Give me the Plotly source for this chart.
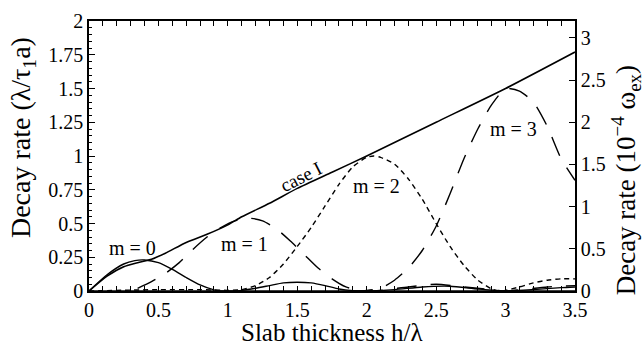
import plotly.graph_objects as go

# ---- data ----
case_x = [0, 0.13, 0.25, 0.35, 0.45, 0.55, 0.7, 0.85, 1.0, 1.1, 1.3, 1.5, 1.75, 2.0, 2.5, 3.0, 3.5]
case_y = [0, 0.11, 0.18, 0.21, 0.235, 0.28, 0.36, 0.42, 0.49, 0.55, 0.65, 0.76, 0.88, 1.0, 1.25, 1.5, 1.77]

m0_x = [0, 0.13, 0.25, 0.33, 0.4, 0.5, 0.6, 0.7, 0.8, 0.9, 0.95, 1.0, 1.1, 1.2, 1.3, 1.4, 1.5, 1.6, 1.7, 1.8, 1.9, 2.0, 2.2, 2.4, 2.6, 2.8, 3.0, 3.2, 3.4, 3.5]
m0_y = [0, 0.12, 0.2, 0.225, 0.23, 0.21, 0.16, 0.1, 0.045, 0.008, 0.0, 0.0, 0.005, 0.02, 0.04, 0.06, 0.065, 0.06, 0.04, 0.015, 0.003, 0.0, 0.01, 0.03, 0.035, 0.015, 0.0, 0.01, 0.025, 0.03]

m1_x = [0.35, 0.45, 0.55, 0.65, 0.75, 0.85, 0.95, 1.05, 1.15, 1.25, 1.35, 1.45, 1.55, 1.65, 1.75, 1.85, 1.95, 2.05, 2.3, 2.5, 2.7, 2.9, 3.0, 3.3, 3.5]
m1_y = [0.02, 0.07, 0.13, 0.21, 0.31, 0.40, 0.47, 0.52, 0.54, 0.52, 0.46, 0.37, 0.27, 0.17, 0.09, 0.03, 0.005, 0.0, 0.03, 0.05, 0.03, 0.01, 0.0, 0.03, 0.04]

m2_x = [0, 0.5, 0.8, 1.0, 1.1, 1.2, 1.3, 1.4, 1.5, 1.6, 1.7, 1.8, 1.9, 2.0, 2.05, 2.1, 2.2, 2.3, 2.4, 2.5, 2.6, 2.7, 2.8, 2.9, 2.95, 3.0, 3.1, 3.2, 3.3, 3.4, 3.5]
m2_y = [0, 0.01, 0.01, 0.005, 0.01, 0.04, 0.1, 0.2, 0.33, 0.47, 0.63, 0.79, 0.92, 0.99, 1.0, 0.99, 0.94, 0.83, 0.68, 0.5, 0.33, 0.19, 0.08, 0.015, 0.0, 0.005, 0.03, 0.06, 0.08, 0.09, 0.09]

m3_x = [1.9, 2.0, 2.1, 2.2, 2.3, 2.4, 2.5, 2.6, 2.7, 2.8, 2.9, 3.0, 3.1, 3.2, 3.3, 3.4, 3.5]
m3_y = [0.0, 0.005, 0.02, 0.08, 0.17, 0.3, 0.48, 0.72, 0.98, 1.2, 1.38, 1.5, 1.48, 1.4, 1.22, 0.98, 0.82]

x_ticks = [0, 0.5, 1, 1.5, 2, 2.5, 3, 3.5]
x_ticktext = ["0", "0.5", "1", "1.5", "2", "2.5", "3", "3.5"]
y_ticks = [0, 0.25, 0.5, 0.75, 1, 1.25, 1.5, 1.75, 2]
y_ticktext = ["0", "0.25", "0.5", "0.75", "1", "1.25", "1.5", "1.75", "2"]
y2_ticks = [0, 0.5, 1, 1.5, 2, 2.5, 3]
y2_ticktext = ["0", "0.5", "1", "1.5", "2", "2.5", "3"]

labels = ["m = 0", "m = 1", "m = 2", "m = 3"]
label_x = [0.31, 1.12, 2.07, 3.06]
label_y = [0.32, 0.35, 0.78, 1.2]

FONT = "Liberation Serif, Times New Roman, Times, serif"
BLACK = "black"

fig = go.Figure()
smooth = dict(shape="spline", smoothing=0.6)
fig.add_trace(go.Scatter(x=case_x, y=case_y, mode="lines",
                         line=dict(color=BLACK, width=1.6, **smooth)))
fig.add_trace(go.Scatter(x=m0_x, y=m0_y, mode="lines",
                         line=dict(color=BLACK, width=1.4, **smooth)))
fig.add_trace(go.Scatter(x=m1_x, y=m1_y, mode="lines",
                         line=dict(color=BLACK, width=1.4, dash="20px,14px", **smooth)))
fig.add_trace(go.Scatter(x=m2_x, y=m2_y, mode="lines",
                         line=dict(color=BLACK, width=1.4, dash="5px,4px", **smooth)))
fig.add_trace(go.Scatter(x=m3_x, y=m3_y, mode="lines",
                         line=dict(color=BLACK, width=1.4, dash="20px,14px", **smooth)))
# trace on the secondary axis so that axis is drawn
fig.add_trace(go.Scatter(x=[0, 3.5], y=[0, 0], yaxis="y2", mode="lines",
                         line=dict(color=BLACK, width=1.4), hoverinfo="skip"))

for t, lx, ly in zip(labels, label_x, label_y):
    fig.add_annotation(x=lx, y=ly, text=t, showarrow=False,
                       font=dict(family=FONT, size=20, color=BLACK))
fig.add_annotation(x=1.53, y=0.85, text="case I", showarrow=False, textangle=-27,
                   font=dict(family=FONT, size=19, color=BLACK))

# axis titles
fig.add_annotation(xref="paper", yref="paper", x=0.5, y=-0.155, yanchor="middle",
                   text="Slab thickness h/λ", showarrow=False,
                   font=dict(family=FONT, size=25, color=BLACK))
fig.add_annotation(xref="paper", yref="paper", x=-0.138, y=0.57, xanchor="center",
                   text="Decay rate (λ/τ<sub>1</sub>a)", showarrow=False, textangle=-90,
                   font=dict(family=FONT, size=28, color=BLACK))
fig.add_annotation(xref="paper", yref="paper", x=1.105, y=0.41, xanchor="center",
                   text="Decay rate (10<sup>−4</sup> ω<sub>ex</sub>)", showarrow=False, textangle=-90,
                   font=dict(family=FONT, size=27, color=BLACK))

fig.update_layout(
    width=644, height=352,
    margin=dict(l=89, r=69, t=10, b=61),
    paper_bgcolor="white", plot_bgcolor="white",
    showlegend=False,
    font=dict(family=FONT, size=19, color=BLACK),
    xaxis=dict(range=[0, 3.5], tickvals=x_ticks, ticktext=x_ticktext,
               showgrid=False, zeroline=False, showline=True, linecolor=BLACK, linewidth=1.5,
               ticks="inside", ticklen=5, tickcolor=BLACK, mirror="allticks",
               minor=dict(ticks="inside", dtick=0.1, ticklen=3, tickcolor=BLACK),
               tickfont=dict(family=FONT, size=20, color=BLACK)),
    yaxis=dict(range=[0, 2], tickvals=y_ticks, ticktext=y_ticktext,
               showgrid=False, zeroline=False, showline=True, linecolor=BLACK, linewidth=1.5,
               ticks="inside", ticklen=6, tickcolor=BLACK,
               minor=dict(ticks="inside", dtick=0.05, ticklen=3, tickcolor=BLACK),
               tickfont=dict(family=FONT, size=20, color=BLACK)),
    yaxis2=dict(range=[0, 3.2], tickvals=y2_ticks, ticktext=y2_ticktext,
                overlaying="y", side="right",
                showgrid=False, zeroline=False, showline=True, linecolor=BLACK, linewidth=1.5,
                ticks="inside", ticklen=6, tickcolor=BLACK,
                tickfont=dict(family=FONT, size=20, color=BLACK)),
)

fig.write_html("out.html")
